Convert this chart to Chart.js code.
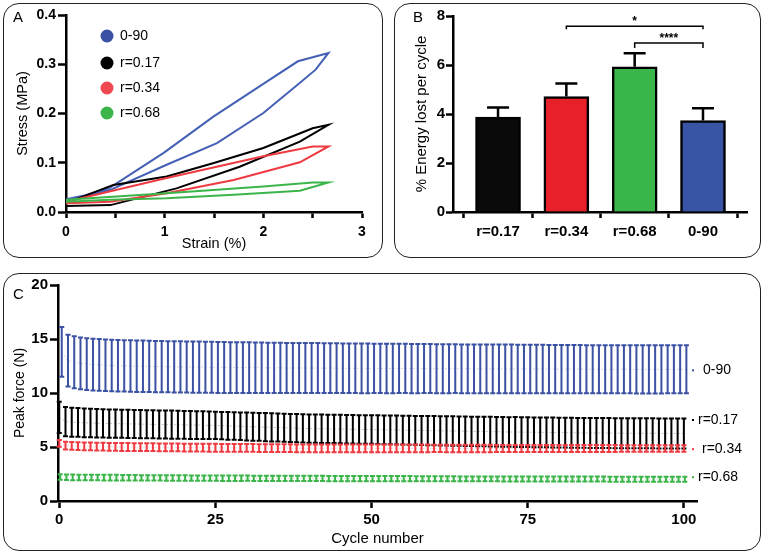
<!DOCTYPE html>
<html>
<head>
<meta charset="utf-8">
<script src="https://cdn.jsdelivr.net/npm/chart.js@4.4.0/dist/chart.umd.min.js"></script>
<style>
  body { margin: 0; background: #fff; width: 764px; height: 553px; position: relative; overflow: hidden; }
  canvas { position: absolute; }
  .frame { position: absolute; border: 1.5px solid #222; border-radius: 16px; box-sizing: border-box; pointer-events: none; }
</style>
</head>
<body>
<canvas id="panelA" width="380" height="255" style="left:3px;top:3px"></canvas>
<div class="frame" style="left:3px;top:3px;width:380px;height:255px"></div>
<canvas id="panelB" width="367" height="255" style="left:394px;top:3px"></canvas>
<div class="frame" style="left:394px;top:3px;width:367px;height:255px"></div>
<canvas id="panelC" width="758" height="278" style="left:3px;top:273px"></canvas>
<div class="frame" style="left:3px;top:273px;width:758px;height:278px"></div>
<script>
// ---- panel A : stress-strain loops ----
const groupNames = ['0-90', 'r=0.17', 'r=0.34', 'r=0.68']
const strainBlue = [0, 0.2, 0.45, 0.99, 1.49, 2.0, 2.35, 2.66, 2.53, 2.35, 2.0, 1.53, 1.02, 0.45, 0]
const stressBlue = [0.026, 0.034, 0.05, 0.12, 0.193, 0.26, 0.306, 0.323, 0.289, 0.259, 0.201, 0.14, 0.096, 0.045, 0.021]
const strainBlack = [0, 0.48, 1.02, 1.49, 2.0, 2.5, 2.66, 2.37, 1.76, 1.12, 0.45, 0]
const stressBlack = [0.018, 0.055, 0.072, 0.099, 0.13, 0.17, 0.177, 0.143, 0.092, 0.048, 0.014, 0.012]
const strainRed = [0, 1.02, 2.0, 2.5, 2.66, 2.37, 1.7, 1.02, 0.45, 0]
const stressRed = [0.021, 0.069, 0.113, 0.133, 0.133, 0.101, 0.065, 0.038, 0.021, 0.018]
const strainGreen = [0, 1.02, 2.0, 2.5, 2.66, 2.37, 1.7, 1.02, 0.45, 0]
const stressGreen = [0.025, 0.038, 0.052, 0.06, 0.06, 0.043, 0.035, 0.028, 0.025, 0.021]
const strainTicks = [0, 0.5, 1, 1.5, 2, 2.5, 3]
const stressTicks = [0, 0.1, 0.2, 0.3, 0.4]

// ---- panel B : energy lost ----
const barLabels = ['r=0.17', 'r=0.34', 'r=0.68', '0-90']
const energyLost = [3.87, 4.71, 5.93, 3.73]
const energyErr = [0.40, 0.54, 0.55, 0.50]
const energyTicks = [0, 2, 4, 6, 8]
const sigFrom = [1, 2]
const sigTo = [3, 3]
const sigY = [7.58, 6.9]
const sigText = ['*', '****']

// ---- panel C : peak force per cycle ----
const cycles = [0,1,2,3,4,5,6,7,8,9,10,11,12,13,14,15,16,17,18,19,20,21,22,23,24,25,26,27,28,29,30,31,32,33,34,35,36,37,38,39,40,41,42,43,44,45,46,47,48,49,50,51,52,53,54,55,56,57,58,59,60,61,62,63,64,65,66,67,68,69,70,71,72,73,74,75,76,77,78,79,80,81,82,83,84,85,86,87,88,89,90,91,92,93,94,95,96,97,98,99,100]
const meanBlue = [13.8,13.0,12.85,12.75,12.68,12.63,12.6,12.57,12.55,12.53,
  12.51,12.5,12.48,12.47,12.46,12.45,12.44,12.43,12.42,12.42,
  12.41,12.4,12.4,12.39,12.38,12.37,12.37,12.36,12.36,12.35,
  12.35,12.34,12.34,12.33,12.33,12.33,12.32,12.32,12.32,12.31,
  12.31,12.31,12.3,12.3,12.3,12.29,12.29,12.29,12.28,12.28,
  12.28,12.28,12.27,12.27,12.27,12.27,12.26,12.26,12.26,12.26,
  12.25,12.25,12.25,12.25,12.24,12.24,12.24,12.24,12.23,12.23,
  12.23,12.23,12.23,12.22,12.22,12.22,12.22,12.22,12.21,12.21,
  12.21,12.21,12.21,12.21,12.2,12.2,12.2,12.2,12.2,12.2,
  12.2,12.2,12.19,12.19,12.19,12.19,12.19,12.19,12.19,12.19,12.19]
const sdBlue = [2.3,2.4,2.4,2.4,2.4,2.39,2.39,2.39,2.38,2.38,
  2.38,2.38,2.38,2.38,2.37,2.37,2.37,2.37,2.37,2.37,
  2.37,2.37,2.37,2.36,2.36,2.36,2.36,2.35,2.35,2.35,
  2.34,2.34,2.34,2.33,2.33,2.33,2.32,2.32,2.32,2.32,
  2.31,2.31,2.31,2.31,2.31,2.3,2.3,2.3,2.3,2.3,
  2.29,2.29,2.29,2.29,2.28,2.28,2.28,2.28,2.27,2.27,
  2.27,2.27,2.27,2.26,2.26,2.26,2.26,2.26,2.25,2.25,
  2.25,2.25,2.25,2.25,2.25,2.24,2.24,2.24,2.24,2.24,
  2.24,2.24,2.24,2.24,2.23,2.23,2.23,2.23,2.23,2.23,
  2.23,2.23,2.23,2.23,2.23,2.23,2.23,2.22,2.22,2.22,2.22]
const meanBlack = [7.75,7.35,7.3,7.27,7.24,7.22,7.2,7.18,7.17,7.16,
  7.15,7.14,7.13,7.12,7.11,7.1,7.09,7.08,7.07,7.06,
  7.05,7.04,7.03,7.02,7.01,7.0,6.98,6.96,6.94,6.92,
  6.9,6.88,6.86,6.84,6.82,6.8,6.78,6.76,6.74,6.72,
  6.71,6.7,6.69,6.68,6.67,6.66,6.65,6.64,6.63,6.62,
  6.61,6.6,6.59,6.58,6.57,6.56,6.55,6.54,6.53,6.52,
  6.51,6.5,6.49,6.48,6.47,6.46,6.45,6.44,6.43,6.42,
  6.41,6.4,6.39,6.39,6.38,6.37,6.36,6.36,6.35,6.34,
  6.33,6.33,6.32,6.31,6.31,6.3,6.3,6.29,6.29,6.28,
  6.28,6.28,6.27,6.27,6.27,6.27,6.26,6.26,6.26,6.26,6.26]
const sdBlack = [1.45,1.35,1.34,1.33,1.33,1.32,1.32,1.31,1.31,1.31,
  1.3,1.3,1.3,1.3,1.3,1.3,1.3,1.3,1.3,1.3,
  1.29,1.29,1.28,1.28,1.28,1.27,1.27,1.28,1.28,1.28,
  1.29,1.29,1.29,1.3,1.3,1.3,1.3,1.3,1.31,1.31,
  1.31,1.31,1.31,1.31,1.31,1.32,1.32,1.32,1.32,1.32,
  1.32,1.33,1.33,1.33,1.34,1.34,1.34,1.34,1.35,1.35,
  1.35,1.35,1.36,1.36,1.36,1.36,1.36,1.37,1.37,1.37,
  1.37,1.37,1.37,1.38,1.38,1.38,1.38,1.38,1.38,1.38,
  1.38,1.38,1.38,1.38,1.38,1.39,1.39,1.39,1.39,1.39,
  1.39,1.39,1.39,1.39,1.39,1.39,1.39,1.39,1.39,1.39,1.39]
const meanRed = [5.34,5.13,5.1,5.08,5.06,5.05,5.04,5.03,5.02,5.01,
  5.0,5.0,4.99,4.99,4.98,4.98,4.97,4.97,4.96,4.96,
  4.95,4.95,4.94,4.94,4.93,4.93,4.92,4.92,4.92,4.91,
  4.91,4.91,4.9,4.9,4.9,4.89,4.89,4.89,4.88,4.88,
  4.88,4.88,4.88,4.88,4.88,4.87,4.87,4.87,4.87,4.87,
  4.87,4.87,4.87,4.87,4.87,4.87,4.87,4.87,4.87,4.87,
  4.87,4.87,4.86,4.86,4.86,4.86,4.86,4.86,4.86,4.86,
  4.86,4.86,4.86,4.86,4.86,4.86,4.86,4.86,4.86,4.86,
  4.86,4.86,4.86,4.86,4.86,4.86,4.86,4.86,4.86,4.86,
  4.86,4.86,4.86,4.86,4.86,4.86,4.86,4.86,4.86,4.86,4.86]
const sdRed = [0.31,0.35,0.36,0.36,0.36,0.36,0.36,0.36,0.36,0.36,
  0.36,0.36,0.36,0.36,0.36,0.36,0.36,0.36,0.36,0.36,
  0.36,0.36,0.36,0.36,0.36,0.36,0.36,0.36,0.36,0.36,
  0.36,0.36,0.36,0.36,0.36,0.36,0.36,0.36,0.36,0.36,
  0.36,0.36,0.36,0.36,0.36,0.36,0.36,0.36,0.36,0.36,
  0.35,0.35,0.35,0.35,0.35,0.35,0.35,0.35,0.35,0.35,
  0.34,0.34,0.34,0.34,0.34,0.34,0.34,0.34,0.34,0.34,
  0.33,0.33,0.33,0.33,0.33,0.33,0.33,0.33,0.33,0.33,
  0.32,0.32,0.32,0.32,0.32,0.32,0.32,0.32,0.32,0.32,
  0.31,0.31,0.31,0.31,0.31,0.31,0.31,0.31,0.31,0.31,0.31]
const meanGreen = [2.22,2.2,2.19,2.18,2.18,2.17,2.17,2.16,2.16,2.16,
  2.15,2.15,2.15,2.14,2.14,2.14,2.14,2.13,2.13,2.13,
  2.13,2.12,2.12,2.12,2.12,2.12,2.11,2.11,2.11,2.11,
  2.11,2.1,2.1,2.1,2.1,2.1,2.1,2.09,2.09,2.09,
  2.09,2.09,2.09,2.08,2.08,2.08,2.08,2.08,2.08,2.08,
  2.07,2.07,2.07,2.07,2.07,2.07,2.07,2.06,2.06,2.06,
  2.06,2.06,2.06,2.06,2.05,2.05,2.05,2.05,2.05,2.05,
  2.05,2.04,2.04,2.04,2.04,2.04,2.04,2.04,2.04,2.03,
  2.03,2.03,2.03,2.03,2.03,2.03,2.03,2.03,2.02,2.02,
  2.02,2.02,2.02,2.02,2.02,2.02,2.02,2.02,2.02,2.02,2.02]
const sdGreen = [0.26,0.26,0.26,0.26,0.26,0.26,0.26,0.26,0.26,0.26,
  0.25,0.25,0.25,0.25,0.25,0.25,0.25,0.25,0.25,0.25,
  0.25,0.25,0.25,0.25,0.25,0.25,0.25,0.25,0.25,0.25,
  0.24,0.24,0.24,0.24,0.24,0.24,0.24,0.24,0.24,0.24,
  0.24,0.24,0.24,0.24,0.24,0.24,0.24,0.24,0.24,0.24,
  0.24,0.24,0.24,0.24,0.24,0.24,0.24,0.24,0.24,0.24,
  0.23,0.23,0.23,0.23,0.23,0.23,0.23,0.23,0.23,0.23,
  0.23,0.23,0.23,0.23,0.23,0.23,0.23,0.23,0.23,0.23,
  0.23,0.23,0.23,0.23,0.23,0.23,0.23,0.23,0.23,0.23,
  0.23,0.23,0.23,0.23,0.23,0.23,0.23,0.23,0.23,0.23,0.23]
const labelValC = [12.1, 7.5, 4.8, 2.2]
const cycleTicks = [0, 25, 50, 75, 100]
const forceTicks = [0, 5, 10, 15, 20]

const FONT = '"Liberation Sans", Arial, Helvetica, sans-serif'
Chart.defaults.font.family = FONT
Chart.defaults.color = '#000'
Chart.defaults.animation = false

const BLUE = '#3b51a3', BLACK = '#000000', RED = '#ee3a40', GREEN = '#3bb54a'

function axis(tickLen, extra) {
  return Object.assign({
    border: { display: true, color: '#000', width: 2.5 },
    grid: { display: true, drawOnChartArea: false, drawTicks: true, tickLength: tickLen, tickWidth: 2.5, tickColor: '#000' },
  }, extra)
}
function pts(xs, ys) {
  return xs.map((x, i) => ({ x: x, y: ys[i] }))
}

// ---------- A ----------
const legendA = {
  id: 'legendA',
  afterDraw(chart) {
    const ctx = chart.ctx
    const cols = [BLUE, BLACK, '#f0494f', GREEN]
    const ys = [33, 60, 85, 110]
    ctx.save()
    ctx.font = '14px ' + FONT
    ctx.textBaseline = 'middle'
    groupNames.forEach((n, i) => {
      ctx.fillStyle = cols[i]
      ctx.beginPath()
      ctx.arc(104, ys[i], 6.5, 0, Math.PI * 2)
      ctx.fill()
      ctx.fillStyle = '#000'
      ctx.fillText(n, 117, ys[i])
    })
    ctx.font = '15px ' + FONT
    ctx.fillText('A', 10, 15)
    ctx.restore()
  }
}
new Chart(document.getElementById('panelA'), {
  type: 'scatter',
  data: {
    datasets: [
      { data: pts(strainGreen, stressGreen), borderColor: GREEN },
      { data: pts(strainRed, stressRed), borderColor: RED },
      { data: pts(strainBlack, stressBlack), borderColor: BLACK },
      { data: pts(strainBlue, stressBlue), borderColor: '#4460b4' },
    ].map(d => Object.assign(d, { showLine: true, pointRadius: 0, borderWidth: 2, tension: 0 }))
  },
  options: {
    responsive: false,
    layout: { padding: { top: 12, right: 21, left: 0, bottom: 0 } },
    plugins: { legend: { display: false }, tooltip: { enabled: false } },
    scales: {
      x: axis(6, {
        type: 'linear', min: 0, max: 3,
        afterBuildTicks: s => { s.ticks = strainTicks.map(v => ({ value: v })) },
        afterFit: s => { s.height = 46 },
        ticks: { autoSkip: false, maxRotation: 0, padding: 6, font: { size: 14, weight: 'bold' },
          callback: v => (v % 1 === 0 ? String(v) : '') },
        title: { display: true, text: 'Strain (%)', font: { size: 14.5 }, padding: { top: 0, bottom: 5 } }
      }),
      y: axis(8, {
        type: 'linear', min: 0, max: 0.4,
        afterBuildTicks: s => { s.ticks = stressTicks.map(v => ({ value: v })) },
        afterFit: s => { s.width = 63 },
        ticks: { padding: 2, font: { size: 14, weight: 'bold' }, callback: v => v.toFixed(1) },
        title: { display: true, text: 'Stress (MPa)', font: { size: 14.5 }, padding: { top: 11, bottom: 0 } }
      })
    }
  },
  plugins: [legendA]
})

// ---------- B ----------
const extrasB = {
  id: 'extrasB',
  afterDatasetsDraw(chart) {
    const ctx = chart.ctx
    const x = chart.scales.x, y = chart.scales.y
    ctx.save()
    ctx.strokeStyle = '#000'
    ctx.lineWidth = 2.5
    energyLost.forEach((v, i) => {
      const px = x.getPixelForValue(i)
      const top = y.getPixelForValue(v + energyErr[i])
      ctx.beginPath()
      ctx.moveTo(px, y.getPixelForValue(v))
      ctx.lineTo(px, top)
      ctx.moveTo(px - 11, top)
      ctx.lineTo(px + 11, top)
      ctx.stroke()
    })
    ctx.lineWidth = 1.5
    ctx.fillStyle = '#000'
    ctx.textAlign = 'center'
    ctx.textBaseline = 'alphabetic'
    ctx.font = 'bold 12px ' + FONT
    sigFrom.forEach((f, i) => {
      const x1 = x.getPixelForValue(f), x2 = x.getPixelForValue(sigTo[i])
      const py = y.getPixelForValue(sigY[i])
      const drop = i === 0 ? 3 : 5
      ctx.beginPath()
      ctx.moveTo(x1, py + drop)
      ctx.lineTo(x1, py)
      ctx.lineTo(x2, py)
      ctx.lineTo(x2, py + drop)
      ctx.stroke()
      ctx.fillText(sigText[i], (x1 + x2) / 2, py - 1)
    })
    ctx.font = '15px ' + FONT
    ctx.textAlign = 'left'
    ctx.textBaseline = 'middle'
    ctx.fillText('B', 19, 15)
    ctx.restore()
  }
}
new Chart(document.getElementById('panelB'), {
  type: 'bar',
  data: {
    datasets: [{
      data: energyLost.map((v, i) => ({ x: i, y: v })),
      backgroundColor: ['#0a0a0a', '#e8202a', '#3ab54a', '#3954a5'],
      borderColor: '#000',
      borderWidth: 2.5,
      barThickness: 45
    }]
  },
  options: {
    responsive: false,
    layout: { padding: { top: 13, right: 14, left: 0, bottom: 0 } },
    plugins: { legend: { display: false }, tooltip: { enabled: false } },
    scales: {
      x: axis(6, {
        type: 'linear', min: -0.659, max: 3.644, offset: false,
        afterBuildTicks: s => { s.ticks = barLabels.map((_, i) => ({ value: i })) },
        afterFit: s => { s.height = 46 },
        ticks: { autoSkip: false, maxRotation: 0, padding: 5, font: { size: 15, weight: 'bold' },
          callback: v => barLabels[v] },
      }),
      y: axis(7, {
        type: 'linear', min: 0, max: 8,
        afterBuildTicks: s => { s.ticks = energyTicks.map(v => ({ value: v })) },
        afterFit: s => { s.width = 59 },
        ticks: { padding: 1, font: { size: 15, weight: 'bold' } },
        title: { display: true, text: '% Energy lost per cycle', font: { size: 15 }, padding: { top: 18.5, bottom: 0 } }
      })
    }
  },
  plugins: [extrasB]
})

// ---------- C ----------
const seriesC = [
  { mean: meanBlue, sd: sdBlue, color: BLUE, nudge: 0.4 },
  { mean: meanBlack, sd: sdBlack, color: BLACK, nudge: 0 },
  { mean: meanRed, sd: sdRed, color: RED, nudge: 0 },
  { mean: meanGreen, sd: sdGreen, color: GREEN, nudge: 0.15 },
]
const errorBarsC = {
  id: 'errorBarsC',
  afterDatasetsDraw(chart) {
    const ctx = chart.ctx
    const x = chart.scales.x, y = chart.scales.y
    ctx.save()
    ctx.lineWidth = 2
    chart.data.datasets.forEach((ds) => {
      ctx.strokeStyle = ds.barColor
      ds.data.forEach((p, i) => {
        const px = x.getPixelForValue(p.x)
        const top = y.getPixelForValue(p.y + ds.sd[i])
        const bot = y.getPixelForValue(p.y - ds.sd[i])
        ctx.beginPath()
        ctx.moveTo(px, top); ctx.lineTo(px, bot)
        ctx.moveTo(px - 2.5, top); ctx.lineTo(px + 2.5, top)
        ctx.moveTo(px - 2.5, bot); ctx.lineTo(px + 2.5, bot)
        ctx.stroke()
      })
    })
    // series labels at the right end
    const area = chart.chartArea
    const gaps = [9, 4, 8, 4]
    ctx.font = '14px ' + FONT
    ctx.textBaseline = 'middle'
    seriesC.forEach((s, i) => {
      const py = y.getPixelForValue(labelValC[i])
      ctx.fillStyle = s.color
      ctx.fillRect(area.right - 5, py - 1, 2, 2)
      ctx.fillStyle = '#000'
      ctx.fillText(groupNames[i], area.right - 3 + gaps[i], py)
    })
    ctx.font = '15px ' + FONT
    ctx.fillText('C', 10, 22)
    ctx.restore()
  }
}
new Chart(document.getElementById('panelC'), {
  type: 'scatter',
  data: {
    datasets: seriesC.map(s => ({
      data: cycles.map((c, i) => ({ x: c + s.nudge, y: s.mean[i] })),
      sd: s.sd,
      barColor: s.color,
      showLine: true,
      pointRadius: 0,
      borderWidth: 0.7,
      borderDash: [2, 2],
      borderColor: s.color + '55'
    }))
  },
  options: {
    responsive: false,
    layout: { padding: { top: 12, right: 64, left: 0, bottom: 0 } },
    plugins: { legend: { display: false }, tooltip: { enabled: false } },
    scales: {
      x: axis(7, {
        type: 'linear', min: -0.2, max: 102.1,
        afterBuildTicks: s => { s.ticks = cycleTicks.map(v => ({ value: v })) },
        afterFit: s => { s.height = 50 },
        ticks: { autoSkip: false, maxRotation: 0, padding: 3, font: { size: 15, weight: 'bold' } },
        title: { display: true, text: 'Cycle number', font: { size: 15 }, padding: { top: 0, bottom: 3 } }
      }),
      y: axis(8, {
        type: 'linear', min: 0, max: 20,
        afterBuildTicks: s => { s.ticks = forceTicks.map(v => ({ value: v })) },
        afterFit: s => { s.width = 55 },
        ticks: { padding: 2, font: { size: 15, weight: 'bold' } },
        title: { display: true, text: 'Peak force (N)', font: { size: 14 }, padding: { top: 8.5, bottom: 0 } }
      })
    }
  },
  plugins: [errorBarsC]
})
</script>
</body>
</html>
